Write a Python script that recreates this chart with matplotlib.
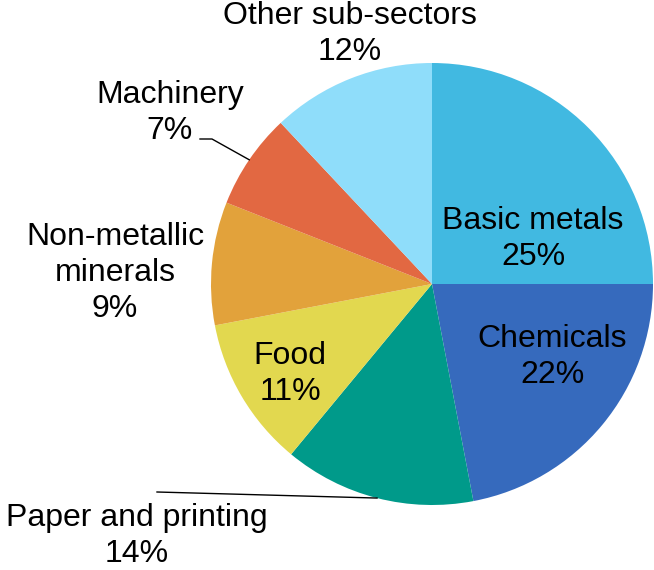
import numpy as np
import matplotlib
matplotlib.use("Agg")
import matplotlib.pyplot as plt

plt.rcParams["font.family"] = ["Liberation Sans", "DejaVu Sans"]

# Share of industrial energy use by sub-sector (clockwise from 12 o'clock)
sectors = ["Basic metals", "Chemicals", "Paper and printing", "Food",
           "Non-metallic\nminerals", "Machinery", "Other sub-sectors"]
shares = [25, 22, 14, 11, 9, 7, 12]
colors = ["#41B9E1", "#366ABD", "#009A8A", "#E2D84F",
          "#E2A23B", "#E26842", "#8FDDFA"]

W, H = 654, 570
CX, CY, R = 432, 286, 221

fig = plt.figure(figsize=(W / 100, H / 100), dpi=100)
ax = fig.add_axes([0, 0, 1, 1])
wedges, _ = ax.pie(shares, colors=colors, startangle=90, counterclock=False,
                   center=(CX, CY), radius=R,
                   wedgeprops=dict(linewidth=0))
ax.set_xlim(0, W); ax.set_ylim(0, H)
ax.set_aspect("equal"); ax.axis("off")

# label anchor positions in pixel space (x, y from top)
label_pos = {
    "Basic metals": (533, 239),
    "Chemicals": (552, 357),
    "Paper and printing": (137, 536),
    "Food": (290, 374),
    "Non-metallic\nminerals": (115, 273),
    "Machinery": (170, 113),
    "Other sub-sectors": (350, 34),
}
fs = 23
for name, val in zip(sectors, shares):
    x, y = label_pos[name]
    ax.text(x, H - y, f"{name}\n{val}%", ha="center", va="center",
            fontsize=fs, linespacing=1.24, color="black")


def edge_point(w):
    a = np.deg2rad((w.theta1 + w.theta2) / 2)
    return CX + R * np.cos(a), CY + R * np.sin(a)


# leader lines
mx, my = edge_point(wedges[sectors.index("Machinery")])
ax.plot([200, 212, mx], [H - 139, H - 139, my], color="black", lw=1)
px, py = edge_point(wedges[sectors.index("Paper and printing")])
ax.plot([157, px], [H - 492, py], color="black", lw=1)

fig.savefig("out.png", dpi=100)
